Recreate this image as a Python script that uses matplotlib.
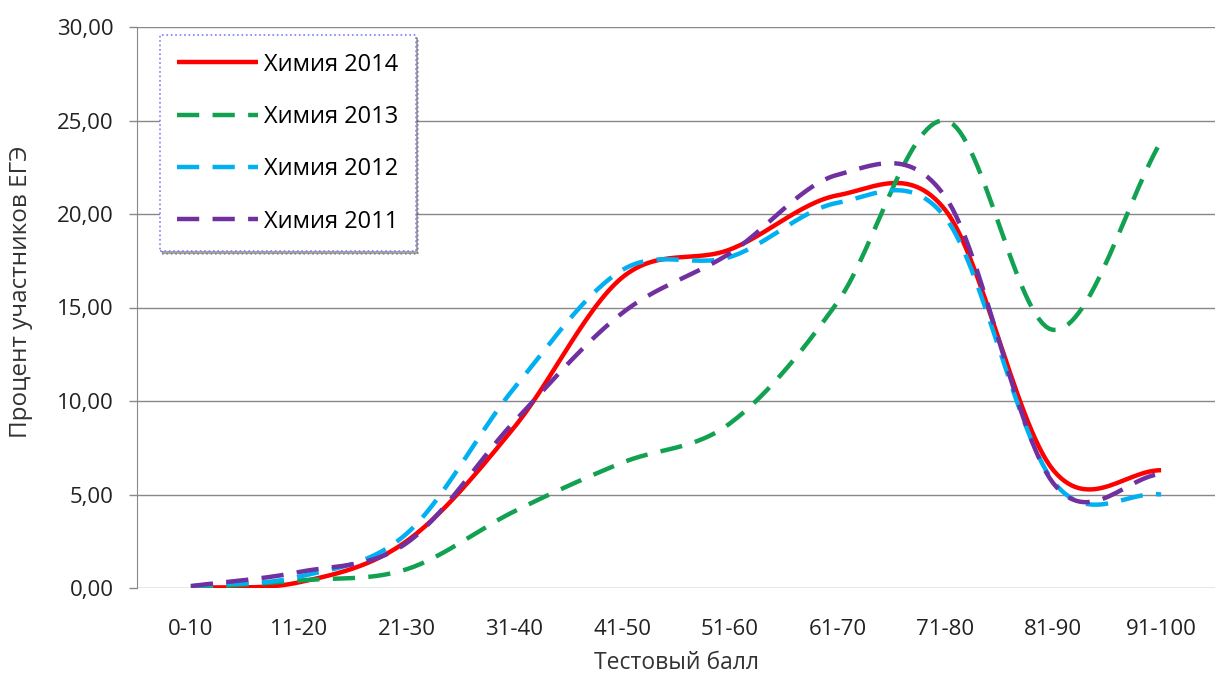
import numpy as np
import matplotlib.pyplot as plt
from matplotlib.ticker import FuncFormatter

categories = ['0-10', '11-20', '21-30', '31-40', '41-50',
              '51-60', '61-70', '71-80', '81-90', '91-100']
chem_2014 = [0.0, 0.3, 2.5, 8.6, 16.6, 18.1, 21.0, 20.2, 6.3, 6.3]
chem_2013 = [0.0, 0.4, 1.0, 4.1, 6.7, 8.8, 15.3, 25.0, 13.8, 23.9]
chem_2012 = [0.1, 0.6, 2.9, 10.7, 17.0, 17.7, 20.6, 19.8, 5.7, 5.0]
chem_2011 = [0.1, 0.85, 2.4, 8.9, 14.7, 17.9, 22.1, 20.9, 5.6, 6.1]

series = [
    ('Химия 2014', chem_2014, '#ff0000', '-'),
    ('Химия 2013', chem_2013, '#12a150', (0, (5, 3))),
    ('Химия 2012', chem_2012, '#00b0f0', (0, (5, 3))),
    ('Химия 2011', chem_2011, '#7030a0', (0, (5, 3))),
]

plt.rcParams['font.family'] = ['Open Sans', 'DejaVu Sans']


def smooth(y, steps=30):
    # Excel-like smoothed line: cubic Bezier with Catmull-Rom control points
    y = np.asarray(y, dtype=float)
    x = np.arange(len(y), dtype=float)
    n = len(y)
    xs, ys = [], []
    for i in range(n - 1):
        p0 = i - 1 if i > 0 else i
        p3 = i + 2 if i + 2 < n else i + 1
        mx1 = (x[i + 1] - x[p0]) / 6
        my1 = (y[i + 1] - y[p0]) / 6
        mx2 = (x[p3] - x[i]) / 6
        my2 = (y[p3] - y[i]) / 6
        if i == 0:
            mx1, my1 = mx1 * 2, my1 * 2
        if i + 2 >= n:
            mx2, my2 = mx2 * 2, my2 * 2
        c1 = (x[i] + mx1, y[i] + my1)
        c2 = (x[i + 1] - mx2, y[i + 1] - my2)
        t = np.linspace(0, 1, steps, endpoint=(i == n - 2))
        a, b, c, d = (1 - t) ** 3, 3 * (1 - t) ** 2 * t, 3 * (1 - t) * t ** 2, t ** 3
        xs.append(a * x[i] + b * c1[0] + c * c2[0] + d * x[i + 1])
        ys.append(a * y[i] + b * c1[1] + c * c2[1] + d * y[i + 1])
    return np.concatenate(xs), np.concatenate(ys)


fig = plt.figure(figsize=(12.18, 6.79), dpi=100)
ax = fig.add_axes([137 / 1218, 1 - 588 / 679, 1078 / 1218, 561 / 679])

for label, vals, color, ls in series:
    sx, sy = smooth(vals)
    ax.plot(sx, sy, color=color, linestyle=ls, linewidth=3.2, label=label,
            dash_capstyle='butt', solid_capstyle='butt')

ax.set_xlim(-0.5, len(categories) - 0.5)
ax.set_ylim(0, 30)
ax.set_yticks(np.arange(0, 31, 5))
ax.yaxis.set_major_formatter(FuncFormatter(lambda v, p: f'{v:.2f}'.replace('.', ',')))
ax.set_xticks(range(len(categories)))
ax.set_xticklabels(categories)
ax.tick_params(axis='x', length=0, pad=22, labelsize=16, colors='#222222')
ax.tick_params(axis='y', length=6, width=1, color='#888888', pad=11,
               labelsize=16, labelcolor='#222222')
ax.grid(axis='y', color='#888888', linewidth=1)
ax.set_axisbelow(True)
for s in ['top', 'right', 'bottom']:
    ax.spines[s].set_visible(False)
ax.spines['left'].set_color('#888888')

ax.set_xlabel('Тестовый балл', fontsize=16.5, color='#333333', labelpad=8)
ax.set_ylabel('Процент участников ЕГЭ', fontsize=17.5, color='#333333', va='center')
ax.yaxis.set_label_coords(-0.108, 0.528)

leg = ax.legend(loc='upper left', bbox_to_anchor=(0.021, 0.986), borderaxespad=0,
                fontsize=17, handlelength=3.4, handletextpad=0.25,
                labelspacing=1.2, borderpad=0.75, fancybox=False, shadow=True,
                framealpha=1)
leg.get_frame().set_edgecolor('#7d7dff')
leg.get_frame().set_linestyle(':')
leg.get_frame().set_linewidth(1.2)

fig.savefig('out.png', dpi=100)
